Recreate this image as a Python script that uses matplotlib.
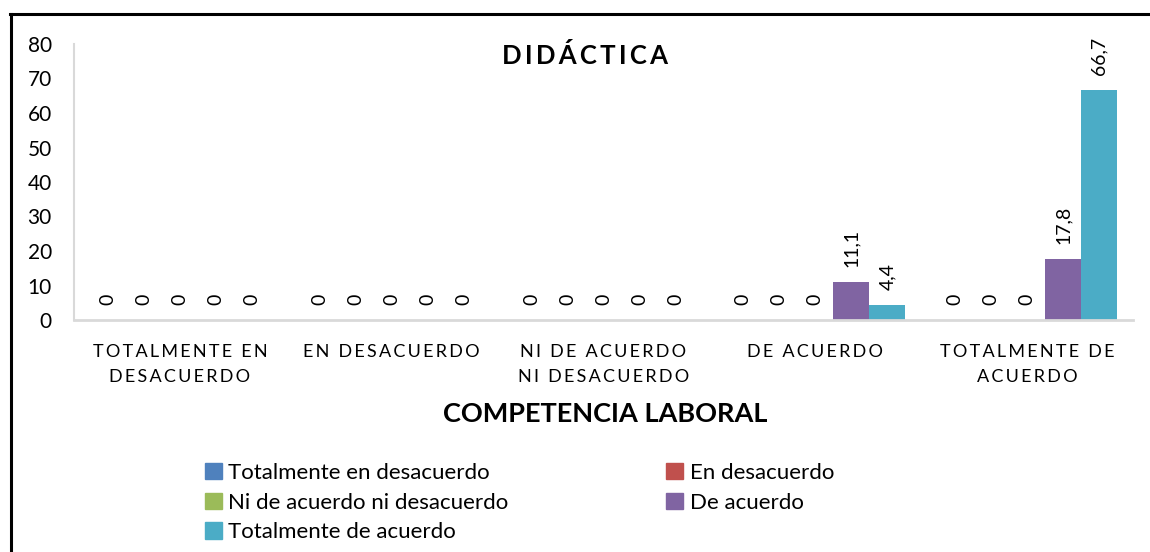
import matplotlib.pyplot as plt
import numpy as np
from matplotlib.lines import Line2D
from matplotlib.patches import Patch

categories = ['TOTALMENTE EN\nDESACUERDO', 'EN DESACUERDO', 'NI DE ACUERDO\nNI DESACUERDO',
              'DE ACUERDO', 'TOTALMENTE DE\nACUERDO']
series = ['Totalmente en desacuerdo', 'En desacuerdo', 'Ni de acuerdo ni desacuerdo',
          'De acuerdo', 'Totalmente de acuerdo']
values = [[0, 0, 0, 0, 0],
          [0, 0, 0, 0, 0],
          [0, 0, 0, 0, 0],
          [0, 0, 0, 11.1, 17.8],
          [0, 0, 0, 4.4, 66.7]]
colours = ['#4F81BD', '#C0504D', '#9BBB59', '#8064A2', '#4BACC6']

plt.rcParams['font.family'] = ['Lato', 'DejaVu Sans']


def spaced(s, gap='\u2009'):
    # fake the letter spacing of the original
    return '\n'.join(gap.join(line) for line in s.split('\n'))


fig = plt.figure(figsize=(11.5, 5.52), dpi=100)
ax = fig.add_axes([74/1150, 1-320/552, (1133-74)/1150, (320-44)/552])

x = np.arange(len(categories))
w = 0.17
for i, (name, vals) in enumerate(zip(series, values)):
    pos = x + (i - 2) * w
    ax.bar(pos, vals, width=w, color=colours[i], label=name)
    for p, v in zip(pos, vals):
        lab = ('%.1f' % v).replace('.', ',') if v else '0'
        ax.annotate(lab, (p, v), xytext=(0, 10.5), textcoords='offset points',
                    rotation=90, ha='center', va='bottom', fontsize=14)

ax.set_xlim(-0.5, 4.5)
ax.set_ylim(0, 80)
ax.set_yticks(np.arange(0, 81, 10))
ax.set_xticks(x)
ax.set_xticklabels([spaced(c) for c in categories], fontsize=13, linespacing=1.75)
ax.tick_params(axis='both', length=0)
ax.tick_params(axis='y', labelsize=15, pad=16)
ax.tick_params(axis='x', pad=17)
for s in ['top', 'right']:
    ax.spines[s].set_visible(False)
ax.spines['left'].set_color('#D9D9D9')
ax.spines['bottom'].set_color('#D9D9D9')
ax.spines['left'].set_linewidth(1.5)
ax.spines['bottom'].set_linewidth(2)

fig.text(585/1150, 1-56/552, spaced('DIDÁCTICA'), fontsize=18.5, fontweight='bold',
         ha='center', va='center')
fig.text(605/1150, 1-414/552, 'COMPETENCIA LABORAL', fontsize=19.5, fontweight='bold',
         ha='center', va='center')

handles = [Patch(color=c) for c in colours]
order = [0, 2, 4, 1, 3]
fig.legend([handles[k] for k in order], [series[k] for k in order], ncol=2,
           loc='upper left', bbox_to_anchor=(205/1150, 1-463/552), frameon=False,
           fontsize=16, handlelength=0.75, handleheight=0.75, handletextpad=0.3,
           labelspacing=0.43, columnspacing=7.1, borderaxespad=0, borderpad=0)

fig.add_artist(Line2D([11/1150, 11/1150], [0, 1-14/552], color='black', lw=2.2))
fig.add_artist(Line2D([10/1150, 1], [1-14/552, 1-14/552], color='black', lw=2.2))

fig.savefig('out.png', dpi=100)
